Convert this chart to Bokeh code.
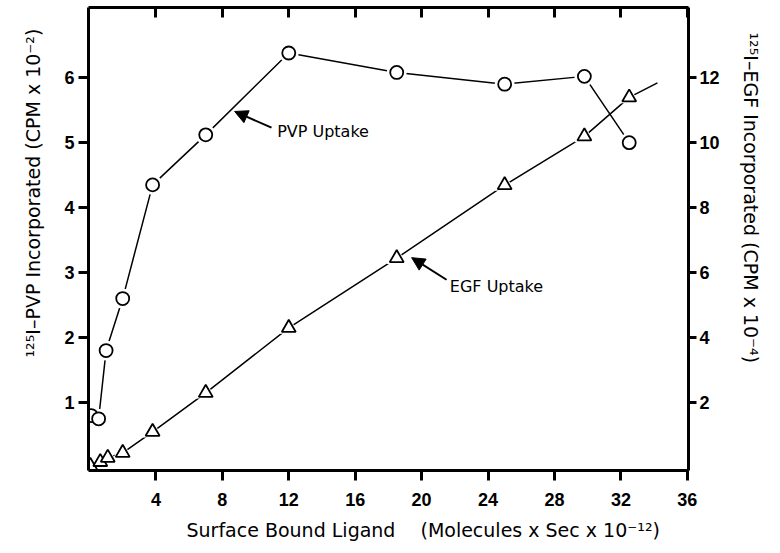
from bokeh.plotting import figure
from bokeh.models import Range1d, LinearAxis, FixedTicker, Arrow, NormalHead, Label, Title
from bokeh.embed import file_html
from bokeh.resources import INLINE

# ---- data ----
pvp_x = [0.1, 0.55, 1.0, 2.0, 3.8, 7.0, 12.0, 18.5, 25.0, 29.8, 32.5]
pvp_y = [0.8, 0.75, 1.8, 2.6, 4.35, 5.12, 6.38, 6.08, 5.9, 6.02, 5.0]   # CPM x 10^-2
egf_x = [0.05, 0.65, 1.1, 2.0, 3.8, 7.0, 12.0, 18.5, 25.0, 29.8, 32.5]
egf_y = [0.05, 0.17, 0.3, 0.45, 1.1, 2.3, 4.3, 6.45, 8.7, 10.2, 11.4]  # CPM x 10^-4
egf_ext_x = [32.5, 34.2]
egf_ext_y = [11.4, 11.85]

x_ticks = [4, 8, 12, 16, 20, 24, 28, 32, 36]
pvp_ticks = [1, 2, 3, 4, 5, 6]
egf_ticks = [2, 4, 6, 8, 10, 12]

x_title = "Surface Bound Ligand\u2003 (Molecules x Sec x 10\u207b\u00b9\u00b2)"
pvp_title = "\u00b9\u00b2\u2075I\u2013PVP Incorporated (CPM x 10\u207b\u00b2)"
egf_title = "\u00b9\u00b2\u2075I\u2013EGF Incorporated (CPM x 10\u207b\u2074)"

pvp_arrow = dict(x_start=10.96, y_start=5.23, x_end=8.74, y_end=5.48)
egf_arrow = dict(x_start=21.5, y_start=2.89, x_end=19.4, y_end=3.23)

FONT = "Liberation Sans"
LFONT = "DejaVu Sans"

p = figure(width=780, height=553, output_backend="svg", toolbar_location=None,
           x_range=Range1d(-0.06, 36.07), y_range=Range1d(-0.046, 7.08),
           x_axis_location=None, y_axis_location=None,
           min_border_left=88, min_border_right=89, min_border_top=7, min_border_bottom=83)
p.extra_y_ranges = {"egf": Range1d(-0.093, 14.17)}
p.outline_line_color = None
p.xgrid.visible = False
p.ygrid.visible = False
p.background_fill_color = "white"
p.border_fill_color = "white"


def style(ax, tick_in=0, tick_out=9):
    ax.axis_line_width = 3
    ax.axis_line_color = "black"
    ax.major_tick_line_width = 3
    ax.major_tick_in = tick_in
    ax.major_tick_out = tick_out
    ax.minor_tick_line_color = None
    ax.major_label_text_font = FONT
    ax.major_label_text_font_size = "18px"
    ax.major_label_text_font_style = "bold"
    ax.major_label_text_color = "black"


bottom = LinearAxis(ticker=FixedTicker(ticks=x_ticks))
style(bottom, tick_out=10)
bottom.major_label_standoff = 12
p.add_layout(bottom, "below")

top = LinearAxis(ticker=FixedTicker(ticks=x_ticks))
style(top, tick_in=10, tick_out=0)
top.major_label_text_color = None
top.major_label_text_font_size = "0px"
top.major_label_standoff = 0
p.add_layout(top, "above")

left = LinearAxis(ticker=FixedTicker(ticks=pvp_ticks))
style(left, tick_out=10)
left.major_label_standoff = 4
p.add_layout(left, "left")

right = LinearAxis(y_range_name="egf", ticker=FixedTicker(ticks=egf_ticks))
style(right, tick_out=8)
right.major_label_standoff = 3
p.add_layout(right, "right")


# ---- axis titles (placed off-centre as in the reference) ----
def side_title(text, offset, standoff):
    return Title(text=text, align="left", offset=offset, standoff=standoff,
                 text_font=LFONT, text_font_size="19px", text_font_style="normal",
                 text_color="black")


p.add_layout(side_title(x_title, 98, 16), "below")
p.add_layout(side_title(pvp_title, 113, 36), "left")
p.add_layout(side_title(egf_title, 25, 34), "right")

# ---- lines ----
p.line(pvp_x, pvp_y, line_color="black", line_width=1.5)
p.line(egf_x, egf_y, y_range_name="egf", line_color="black", line_width=1.5)
p.line(egf_ext_x, egf_ext_y, y_range_name="egf", line_color="black", line_width=1.5)

# white halos so lines stop short of the markers
p.scatter(pvp_x, pvp_y, marker="circle", size=20, fill_color="white", line_color=None)
p.scatter(egf_x, egf_y, y_range_name="egf", marker="triangle", size=20,
          fill_color="white", line_color=None)

# ---- markers ----
p.scatter(pvp_x, pvp_y, marker="circle", size=13, fill_color="white",
          line_color="black", line_width=1.8)
p.scatter(egf_x, egf_y, y_range_name="egf", marker="triangle", size=14,
          fill_color="white", line_color="black", line_width=1.8)

# ---- annotations ----
p.add_layout(Arrow(end=NormalHead(size=13, fill_color="black", line_color="black"),
                   line_color="black", line_width=2, **pvp_arrow))
p.add_layout(Arrow(end=NormalHead(size=13, fill_color="black", line_color="black"),
                   line_color="black", line_width=2, **egf_arrow))
p.add_layout(Label(x=11.3, y=5.17, text="PVP Uptake", text_font=LFONT,
                   text_font_size="16px", text_baseline="middle", text_color="black"))
p.add_layout(Label(x=21.7, y=2.78, text="EGF Uptake", text_font=LFONT,
                   text_font_size="16px", text_baseline="middle", text_color="black"))

open("out.html", "w").write(file_html(p, INLINE))
